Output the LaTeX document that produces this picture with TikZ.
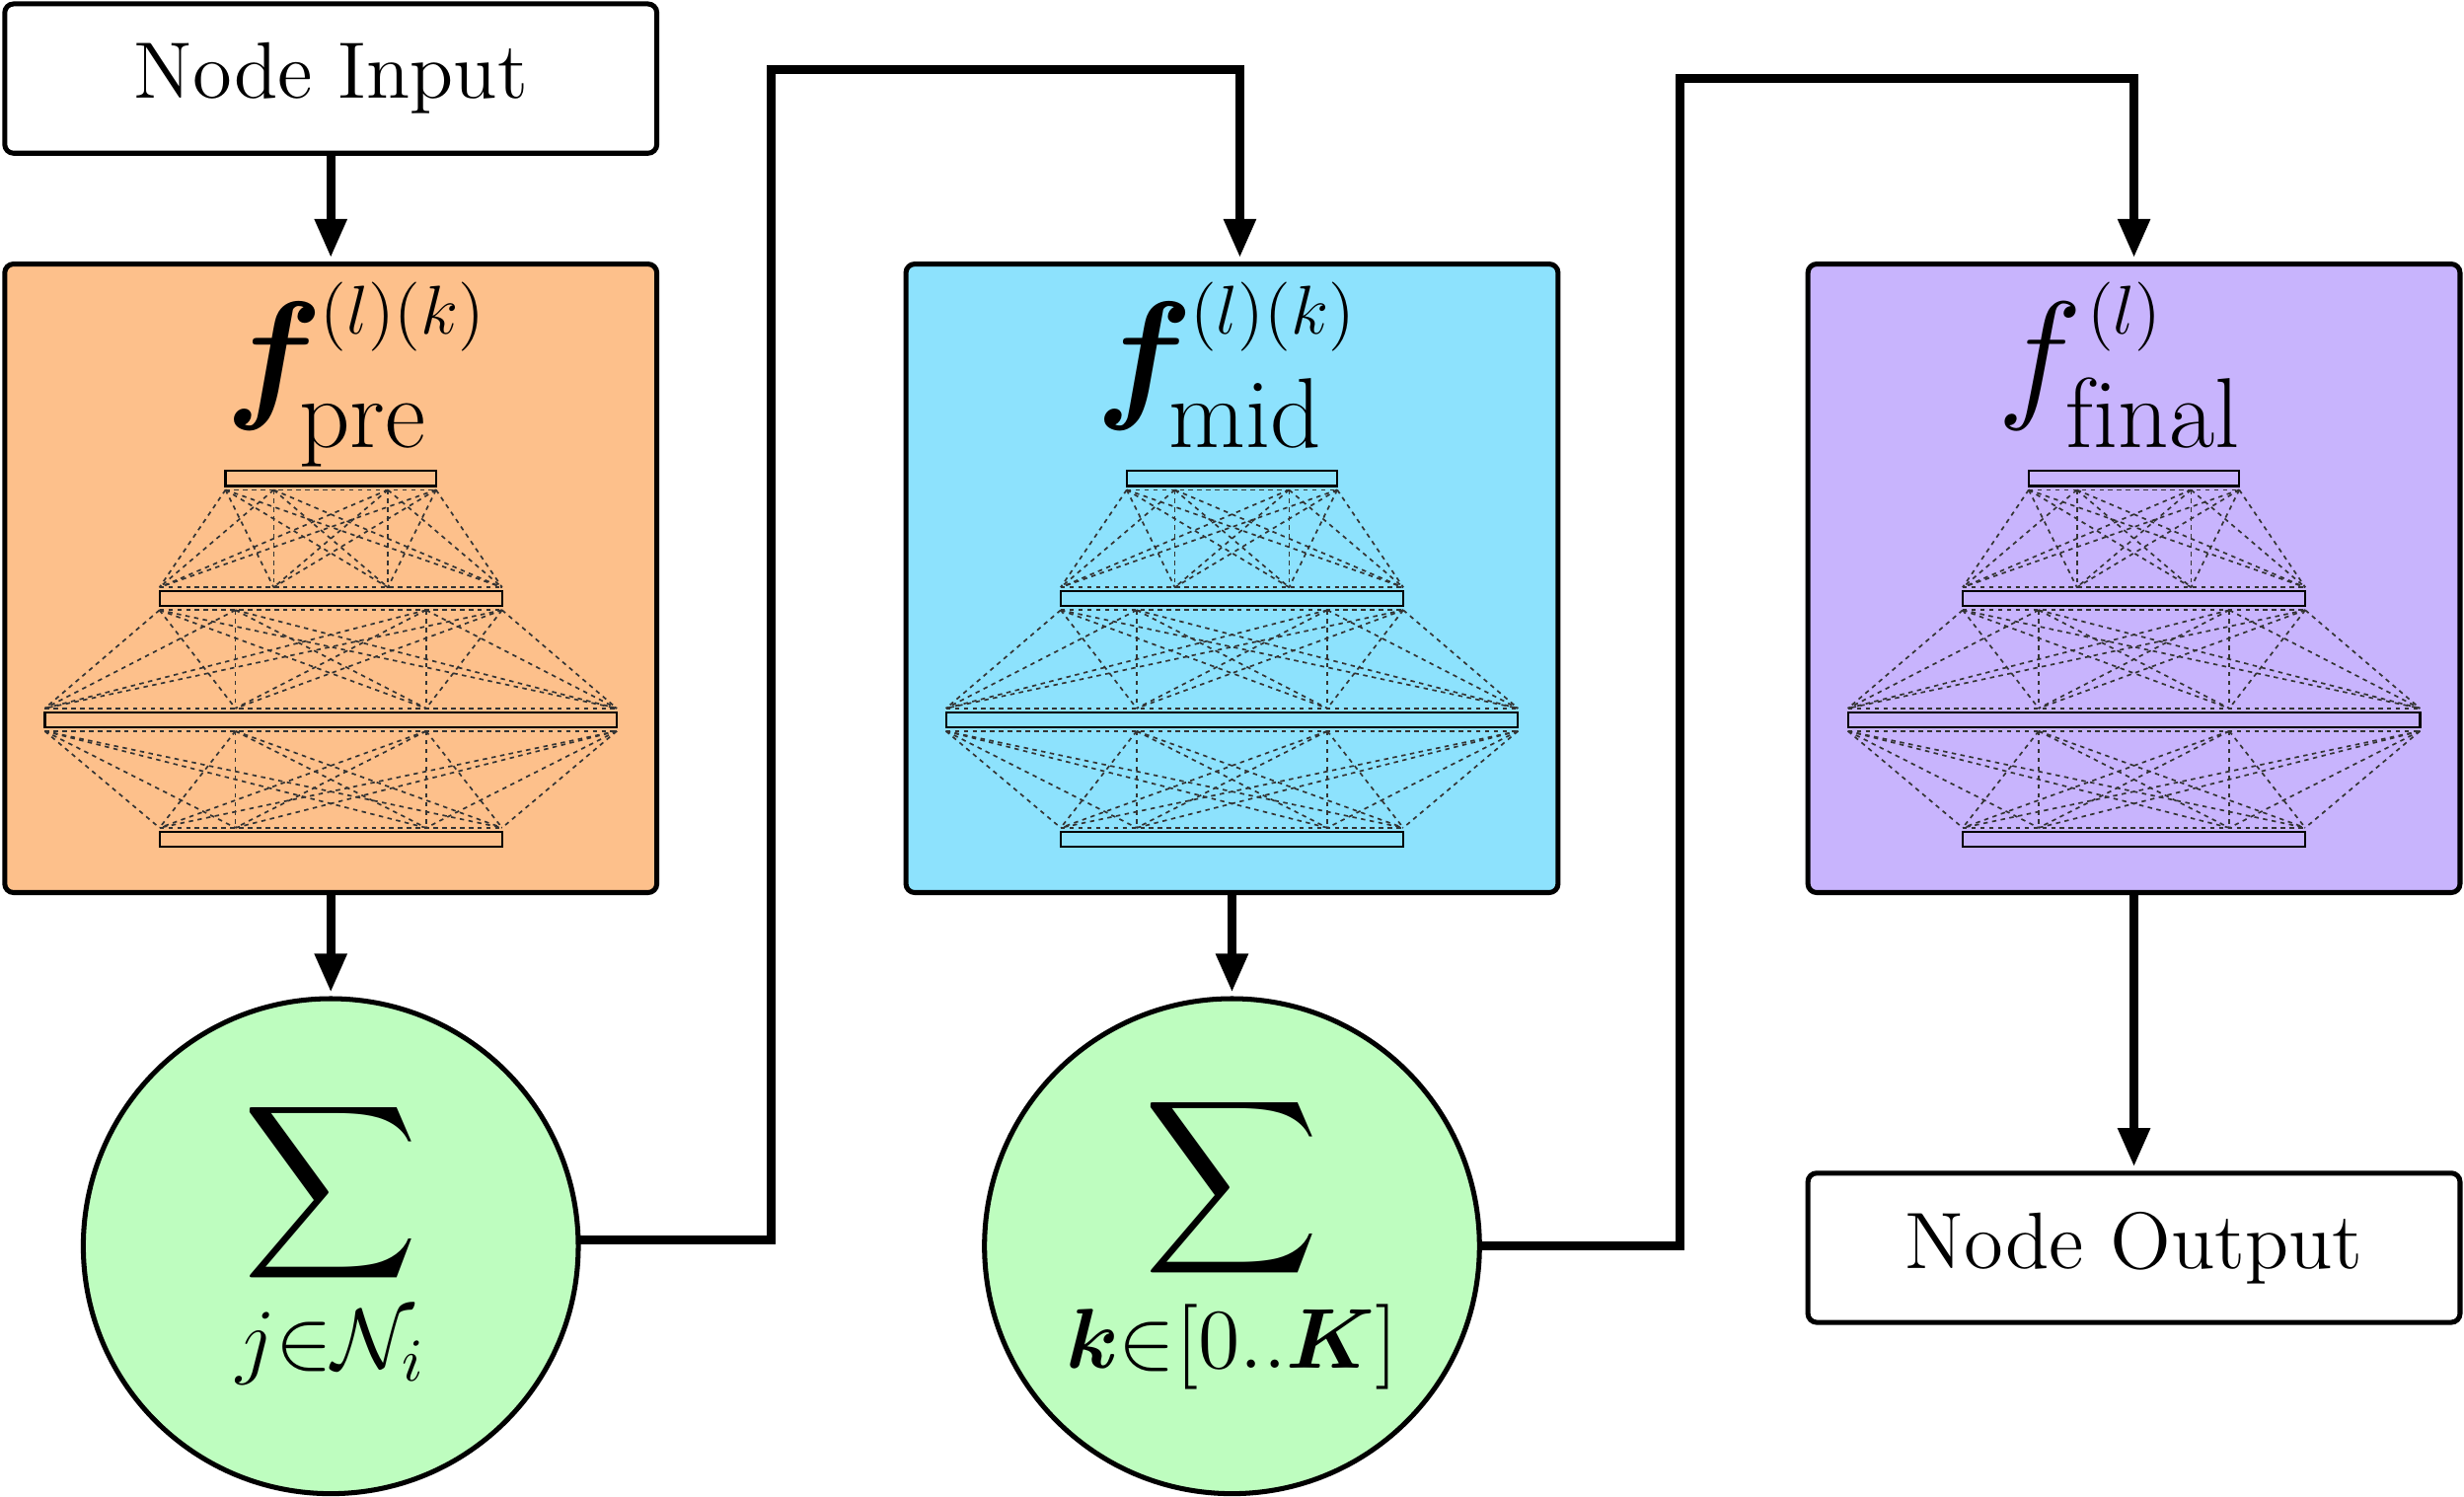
\documentclass[tikz,border=0pt]{standalone}
\usepackage{fix-cm}
\usepackage{amsmath}
\usepackage{amssymb}
\usepackage{bm}
\usetikzlibrary{arrows.meta,positioning}

\definecolor{preorange}{RGB}{253,192,139}
\definecolor{midblue}{RGB}{141,226,253}
\definecolor{finalpurple}{RGB}{200,180,253}
\definecolor{sumgreen}{RGB}{190,253,191}

\newcommand\ftitle[4][-4.3pt]{{\fontsize{26}{30}\selectfont$#2$}\kern#1%
    \rlap{\raisebox{12.3pt}{\hspace{3.8pt}\fontsize{12.5}{15}\selectfont$#3$}}%
    \raisebox{-8.3pt}{\fontsize{18}{21}\selectfont#4}}

\begin{document}
\begin{tikzpicture}[x=0.1mm, y=-0.1mm,
    box/.style={draw, line width=0.9pt, rounded corners=1.6pt, minimum width=41.5mm, inner sep=0pt, outer sep=0pt},
    io/.style={box, fill=white, minimum height=9.5mm, font=\fontsize{14.5}{17}\selectfont},
    net/.style={box, minimum height=40mm},
    sum/.style={draw, circle, line width=0.9pt, fill=sumgreen, minimum size=31.5mm, inner sep=0pt, outer sep=0pt, font=\fontsize{22}{26}\selectfont},
    title/.style={anchor=base west, inner sep=0pt},
    flow/.style={line width=1.6pt, -{Triangle[width=5.5pt,length=7pt]}, shorten >=0.4mm},
    layer/.style={draw, line width=0.4pt},
    wire/.style={line width=0.3pt, black!80, dash pattern=on 0.8pt off 0.8pt}]
    \useasboundingbox (0,0) rectangle (1568,952.6);

    \node[io] (input) at (210.5,50) {Node Input};
    \node[net, fill=preorange, below=7.05mm of input] (pre) {};
    \node[net, fill=midblue, right=15.85mm of pre] (mid) {};
    \node[net, fill=finalpurple, right=15.9mm of mid] (final) {};
    \node[sum, below=6.75mm of pre] (s1) {$\displaystyle\sum_{j\in\mathcal{N}_i}$};
    \node[sum, below=6.75mm of mid] (s2) {$\displaystyle\sum_{\bm{k}\in[0..\bm{K}]}$};
    \node[io, below=17.85mm of final] (output) {Node Output};

    \node[title] at ([xshift=14.0mm, yshift=-8.77mm]pre.north west) {\ftitle{\bm{f}}{(l)(k)}{pre}};
    \node[title] at ([xshift=12.0mm, yshift=-8.77mm]mid.north west) {\ftitle{\bm{f}}{(l)(k)}{mid}};
    \node[title] at ([xshift=12.0mm, yshift=-8.77mm]final.north west) {\ftitle[-2.9pt]{f}{(l)}{\mbox{f}\mbox{inal}}};

    \foreach \b in {pre,mid,final} {
        \begin{scope}[shift={(\b.north)}]
            \foreach \y/\w in {136.5/67,213/109,290/182,366/109}
                \draw[layer] (-\w,\y-4.75) rectangle (\w,\y+4.75);
            \foreach \ya/\wa/\yb/\wb in {143.75/67/205.75/109,220.25/109/282.75/182,297.25/182/358.75/109} {
                \pgfmathsetmacro\third{max(\wa,\wb)/3}
                \draw[wire] (-\wa,\ya) -- (\wa,\ya) (-\wb,\yb) -- (\wb,\yb);
                \foreach \xa in {-\wa,-\third,\third,\wa}
                    \foreach \xb in {-\wb,-\third,\third,\wb}
                        \draw[wire] (\xa,\ya) -- (\xb,\yb);
            }
        \end{scope}
    }

    \coordinate (hop1) at (491,44);
    \coordinate (hop2) at (1069,50);
    \draw[flow] (input.south) -- (pre.north);
    \draw[flow] (pre.south) -- (s1.north);
    \draw[flow] ([yshift=0.4mm]s1.east) -| (hop1) -| ([xshift=0.5mm]mid.north);
    \draw[flow] (mid.south) -- (s2.north);
    \draw[flow] (s2.east) -| (hop2) -| (final.north);
    \draw[flow] (final.south) -- (output.north);
\end{tikzpicture}
\end{document}
